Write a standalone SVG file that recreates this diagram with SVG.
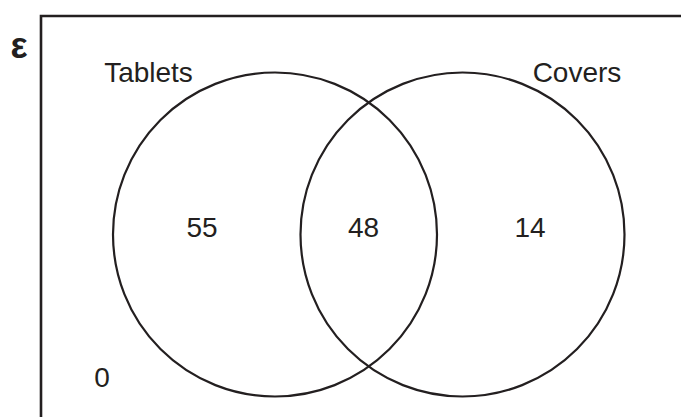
<svg xmlns="http://www.w3.org/2000/svg" width="681" height="417" viewBox="0 0 681 417">
<style>
.t{font-family:"Liberation Sans",Arial,sans-serif;font-size:28px;fill:#231f20;text-anchor:middle}
.c{fill:none;stroke:#231f20;stroke-width:2.2}
.b{fill:none;stroke:#231f20;stroke-width:2.6}
</style>
<rect width="681" height="417" fill="#ffffff"/>
<g id="universe">
<path class="b" d="M41,417 V16 H681"/>
<text class="t" x="19" y="57.5" style="font-size:36px;font-weight:bold">ε</text>
<text class="t" x="102" y="387">0</text>
</g>
<g id="tablets">
<circle class="c" cx="275" cy="234.5" r="162"/>
<text class="t" x="148.5" y="82">Tablets</text>
<text class="t" x="202" y="237">55</text>
</g>
<g id="covers">
<circle class="c" cx="462.5" cy="234.5" r="162"/>
<text class="t" x="577" y="82">Covers</text>
<text class="t" x="530" y="237">14</text>
</g>
<g id="both">
<text class="t" x="363.5" y="237">48</text>
</g>
</svg>
